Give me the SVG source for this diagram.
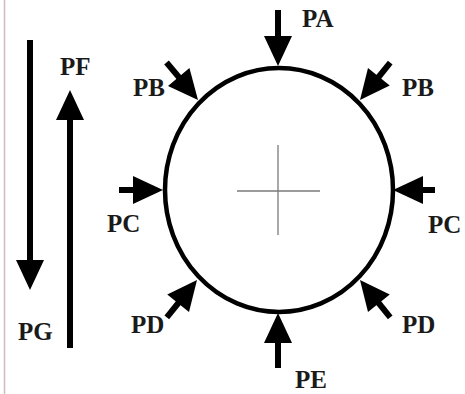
<svg xmlns="http://www.w3.org/2000/svg" xmlns:xlink="http://www.w3.org/1999/xlink" width="465" height="394" viewBox="0 0 465 394">
<style>
.shaft{stroke:#000;stroke-width:6;fill:none}
.lbl{font-family:"Liberation Serif","Times New Roman",serif;font-weight:bold;font-size:25px;fill:#1a1a1a}
.cross{stroke:#7a7a7a;stroke-width:1.3}
</style>
<defs>
<path id="head" d="M0,0 L-30,-14 L-30,14 Z" fill="#000"/>
</defs>
<rect width="465" height="394" fill="#fff"/>
<line x1="4.5" y1="0" x2="4.5" y2="394" stroke="#cdbdbd" stroke-width="1.5"/>
<g id="body">
<ellipse cx="279" cy="190" rx="114" ry="122" fill="none" stroke="#000" stroke-width="4.5"/>
<line class="cross" x1="237" y1="191" x2="320" y2="191"/>
<line class="cross" x1="278" y1="145" x2="278" y2="235"/>
</g>
<g id="connectors">
<g transform="translate(278,66) rotate(90)"><line class="shaft" x1="-56" y1="0" x2="-28" y2="0"/><use xlink:href="#head"/></g>
<g transform="translate(198,100) rotate(50)"><line class="shaft" x1="-49" y1="0" x2="-28" y2="0"/><use xlink:href="#head"/></g>
<g transform="translate(360,100) rotate(129)"><line class="shaft" x1="-48" y1="0" x2="-28" y2="0"/><use xlink:href="#head"/></g>
<g transform="translate(163,190)"><line class="shaft" x1="-44" y1="0" x2="-28" y2="0"/><use xlink:href="#head"/></g>
<g transform="translate(393,190) rotate(180)"><line class="shaft" x1="-42" y1="0" x2="-28" y2="0"/><use xlink:href="#head"/></g>
<g transform="translate(197,280) rotate(-51)"><line class="shaft" x1="-48" y1="0" x2="-28" y2="0"/><use xlink:href="#head"/></g>
<g transform="translate(360,280) rotate(-129)"><line class="shaft" x1="-48" y1="0" x2="-28" y2="0"/><use xlink:href="#head"/></g>
<g transform="translate(278,313) rotate(-90)"><line class="shaft" x1="-55" y1="0" x2="-28" y2="0"/><use xlink:href="#head"/></g>
<g transform="translate(30,290) rotate(90)"><line class="shaft" x1="-250" y1="0" x2="-28" y2="0"/><use xlink:href="#head"/></g>
<g transform="translate(70,90) rotate(-90)"><line class="shaft" x1="-258" y1="0" x2="-28" y2="0"/><use xlink:href="#head"/></g>
</g>
<g id="labels">
<text id="lPA" class="lbl" x="302" y="27">PA</text>
<text id="lPB1" class="lbl" x="133" y="96">PB</text>
<text id="lPB2" class="lbl" x="402" y="96">PB</text>
<text id="lPC1" class="lbl" x="107" y="232">PC</text>
<text id="lPC2" class="lbl" x="428" y="233">PC</text>
<text id="lPD1" class="lbl" x="131" y="333">PD</text>
<text id="lPD2" class="lbl" x="402" y="333">PD</text>
<text id="lPE" class="lbl" x="295" y="388">PE</text>
<text id="lPF" class="lbl" x="60" y="75">PF</text>
<text id="lPG" class="lbl" x="18" y="340">PG</text>
</g>
</svg>
